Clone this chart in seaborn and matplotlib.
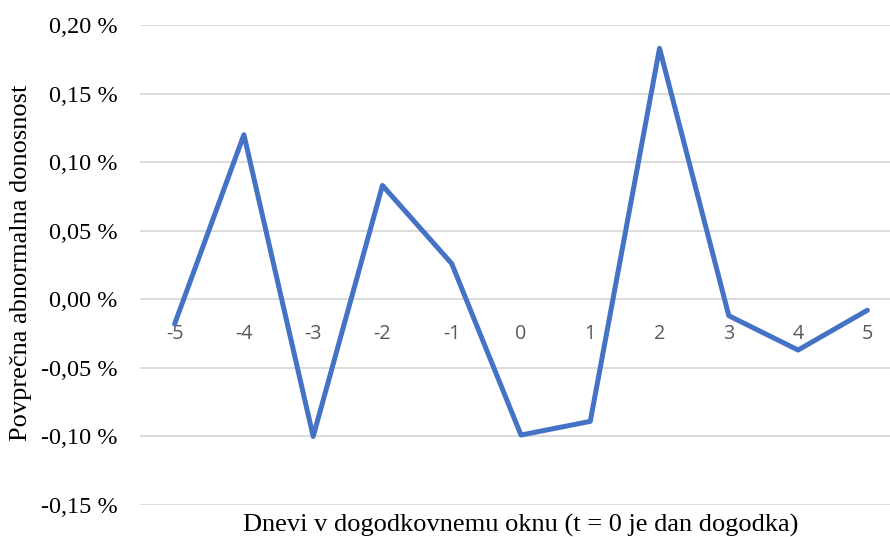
import numpy as np
import pandas as pd
import matplotlib
matplotlib.use("Agg")
import matplotlib.pyplot as plt
import seaborn as sns
from matplotlib.ticker import FuncFormatter

# data (average abnormal return, %)
days = ["-5", "-4", "-3", "-2", "-1", "0", "1", "2", "3", "4", "5"]
aar = [-0.018, 0.120, -0.100, 0.083, 0.026, -0.099, -0.089, 0.183, -0.012, -0.037, -0.008]
yticks = [-0.15, -0.10, -0.05, 0.00, 0.05, 0.10, 0.15, 0.20]

df = pd.DataFrame({"dan": days, "aar": aar})
df["pos"] = np.arange(len(days))

sns.set_theme(style="white")
plt.rcParams["font.family"] = ["Liberation Serif", "DejaVu Serif"]

fig = plt.figure(figsize=(8.9, 5.37), dpi=100)
ax = fig.add_axes([140/890, 32/537, 762/890, 480/537])

sns.lineplot(data=df, x="pos", y="aar", color="#4472C4", linewidth=3.6, ax=ax)

ax.set_xlim(-0.5, len(days) - 0.5)
ax.set_ylim(-0.15, 0.20)
ax.set_yticks(yticks)
ax.yaxis.set_major_formatter(FuncFormatter(lambda v, p: f"{v:.2f} %".replace(".", ",")))
ax.grid(axis="y", color="#d9d9d9", linewidth=1.3)
ax.set_axisbelow(True)

for s in ax.spines.values():
    s.set_visible(False)
ax.spines["bottom"].set_position(("data", 0))

ax.set_xticks(df["pos"])
ax.set_xticklabels(days, fontfamily="Open Sans", fontsize=14.2, color="#595959")
ax.tick_params(axis="x", length=0, pad=18)
ax.tick_params(axis="y", length=0, pad=16, labelsize=17.5, labelcolor="black")

ax.set_xlabel("")
ax.set_ylabel("")
fig.text(21/890, 1 - 263/537, "Povprečna abnormalna donosnost", rotation=90,
         ha="center", va="center", fontsize=19, color="black")
fig.text(521/890, 1 - 532/537, "Dnevi v dogodkovnemu oknu (t = 0 je dan dogodka)",
         ha="center", va="baseline", fontsize=19, color="black")

fig.savefig("out.png", dpi=100)
